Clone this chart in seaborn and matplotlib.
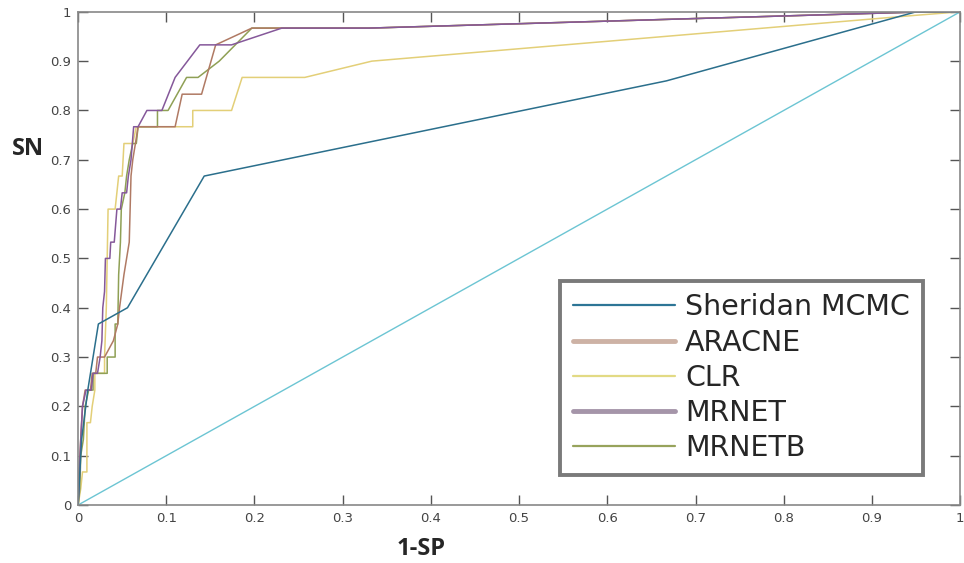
import matplotlib
matplotlib.use("Agg")
import matplotlib.pyplot as plt
import seaborn as sns
import pandas as pd
from matplotlib.lines import Line2D

# ---------------- data ----------------
methods = ["Sheridan MCMC", "ARACNE", "CLR", "MRNET", "MRNETB"]

sheridan_x = [0, 0.004, 0.011, 0.023, 0.056, 0.143, 0.667, 0.95, 1]
sheridan_y = [0, 0.133, 0.233, 0.367, 0.4, 0.667, 0.86, 1.0, 1]

aracne_x = [0, 0.001, 0.003, 0.005, 0.008, 0.014, 0.016, 0.02, 0.022, 0.03, 0.04, 0.045,
            0.047, 0.052, 0.055, 0.058, 0.059, 0.06, 0.062, 0.065, 0.068, 0.11, 0.118,
            0.14, 0.156, 0.197, 0.33, 0.96, 1]
aracne_y = [0, 0.067, 0.133, 0.2, 0.233, 0.233, 0.267, 0.267, 0.3, 0.3, 0.333, 0.367,
            0.4, 0.467, 0.5, 0.533, 0.6, 0.667, 0.7, 0.733, 0.767, 0.767, 0.833,
            0.833, 0.933, 0.967, 0.967, 1, 1]

clr_x = [0, 0.003, 0.005, 0.01, 0.01, 0.014, 0.016, 0.019, 0.019, 0.03, 0.03, 0.032,
         0.033, 0.034, 0.042, 0.046, 0.05, 0.052, 0.062, 0.066, 0.13, 0.13, 0.174,
         0.186, 0.257, 0.333, 0.95, 1]
clr_y = [0, 0.033, 0.067, 0.067, 0.167, 0.167, 0.2, 0.233, 0.267, 0.267, 0.3, 0.4,
         0.5, 0.6, 0.6, 0.667, 0.667, 0.733, 0.733, 0.767, 0.767, 0.8, 0.8,
         0.867, 0.867, 0.9, 0.993, 1]

mrnet_x = [0, 0.001, 0.003, 0.005, 0.009, 0.015, 0.017, 0.022, 0.025, 0.027, 0.028,
           0.03, 0.031, 0.036, 0.037, 0.041, 0.044, 0.048, 0.05, 0.055, 0.057, 0.06,
           0.063, 0.068, 0.078, 0.095, 0.11, 0.138, 0.174, 0.231, 0.33, 0.96, 1]
mrnet_y = [0, 0.033, 0.133, 0.2, 0.233, 0.233, 0.267, 0.267, 0.3, 0.333, 0.4,
           0.433, 0.5, 0.5, 0.533, 0.533, 0.6, 0.6, 0.633, 0.633, 0.667, 0.7,
           0.767, 0.767, 0.8, 0.8, 0.867, 0.933, 0.933, 0.967, 0.967, 1, 1]

mrnetb_x = [0, 0.002, 0.003, 0.006, 0.008, 0.012, 0.017, 0.017, 0.033, 0.033, 0.042,
            0.042, 0.045, 0.046, 0.048, 0.049, 0.053, 0.055, 0.058, 0.062, 0.066,
            0.068, 0.09, 0.09, 0.102, 0.123, 0.136, 0.16, 0.197, 0.33, 0.96, 1]
mrnetb_y = [0, 0.033, 0.1, 0.133, 0.2, 0.233, 0.233, 0.267, 0.267, 0.3, 0.3,
            0.367, 0.367, 0.467, 0.533, 0.6, 0.633, 0.667, 0.7, 0.733, 0.733,
            0.767, 0.767, 0.8, 0.8, 0.867, 0.867, 0.9, 0.967, 0.967, 1, 1]

random_x = [0, 1]
random_y = [0, 1]

tick_values = [0, 0.1, 0.2, 0.3, 0.4, 0.5, 0.6, 0.7, 0.8, 0.9, 1]
tick_labels = ["0", "0.1", "0.2", "0.3", "0.4", "0.5", "0.6", "0.7", "0.8", "0.9", "1"]

# ---------------- styles ----------------
line_colors = {
    "Sheridan MCMC": "#2b6f8c",
    "ARACNE": "#b07a64",
    "CLR": "#e3cf78",
    "MRNET": "#85589a",
    "MRNETB": "#8fa055",
}
legend_colors = {
    "Sheridan MCMC": ("#2d7596", 1.6),
    "ARACNE": ("#cdb2a5", 3.5),
    "CLR": ("#e2da84", 1.6),
    "MRNET": ("#a595a9", 3.5),
    "MRNETB": ("#97a35c", 1.6),
}

series = {
    "Sheridan MCMC": (sheridan_x, sheridan_y),
    "ARACNE": (aracne_x, aracne_y),
    "CLR": (clr_x, clr_y),
    "MRNET": (mrnet_x, mrnet_y),
    "MRNETB": (mrnetb_x, mrnetb_y),
}

frames = []
for name, (xs, ys) in series.items():
    frames.append(pd.DataFrame({"fpr": xs, "tpr": ys, "method": name}))
df = pd.concat(frames, ignore_index=True)
df_rand = pd.DataFrame({"fpr": random_x, "tpr": random_y})

sns.set_theme(style="white")
fig = plt.figure(figsize=(9.64, 5.63), dpi=100)
ax = fig.add_axes([0.081, 0.103, 0.915, 0.876])

sns.lineplot(data=df_rand, x="fpr", y="tpr", ax=ax, color="#6cc5d3", lw=1.0,
             estimator=None, sort=False, legend=False)
for name in ["CLR", "MRNETB", "ARACNE", "MRNET", "Sheridan MCMC"]:
    sub = df[df["method"] == name]
    sns.lineplot(data=sub, x="fpr", y="tpr", ax=ax, color=line_colors[name],
                 lw=1.1, estimator=None, sort=False, legend=False)

ax.set_xlim(0, 1)
ax.set_ylim(0, 1)
ax.set_xticks(tick_values)
ax.set_yticks(tick_values)
tick_font = dict(family=["Liberation Sans Narrow", "DejaVu Sans"], size=9.5)
ax.set_xticklabels(tick_labels, color="#444444", **tick_font)
ax.set_yticklabels(tick_labels, color="#444444", **tick_font)
ax.tick_params(direction="in", length=7, width=1, color="#555555",
               top=True, right=True, bottom=True, left=True, pad=5)
for sp in ax.spines.values():
    sp.set_color("#888888")
    sp.set_linewidth(1.2)
ax.set_xlabel("")
ax.set_ylabel("")

handles = [Line2D([0], [0], color=legend_colors[m][0], lw=legend_colors[m][1]) for m in methods]
leg = ax.legend(handles, methods, loc="upper left", bbox_to_anchor=(0.546, 0.455),
                frameon=True, fancybox=False, framealpha=1, edgecolor="#7a7a7a",
                prop={"family": "DejaVu Sans", "size": 20.5}, handlelength=3.6,
                handletextpad=0.35, labelspacing=0.25, borderpad=0.45,
                borderaxespad=0)
leg.get_frame().set_linewidth(2.8)

fig.text(0.012, 0.735, "SN", fontsize=17, fontweight="bold",
         family=["Open Sans", "DejaVu Sans"], ha="left", va="center")
fig.text(0.437, 0.025, "1-SP", fontsize=17, fontweight="bold",
         family=["Open Sans", "DejaVu Sans"], ha="center", va="center")

fig.savefig("out.png", dpi=100)
